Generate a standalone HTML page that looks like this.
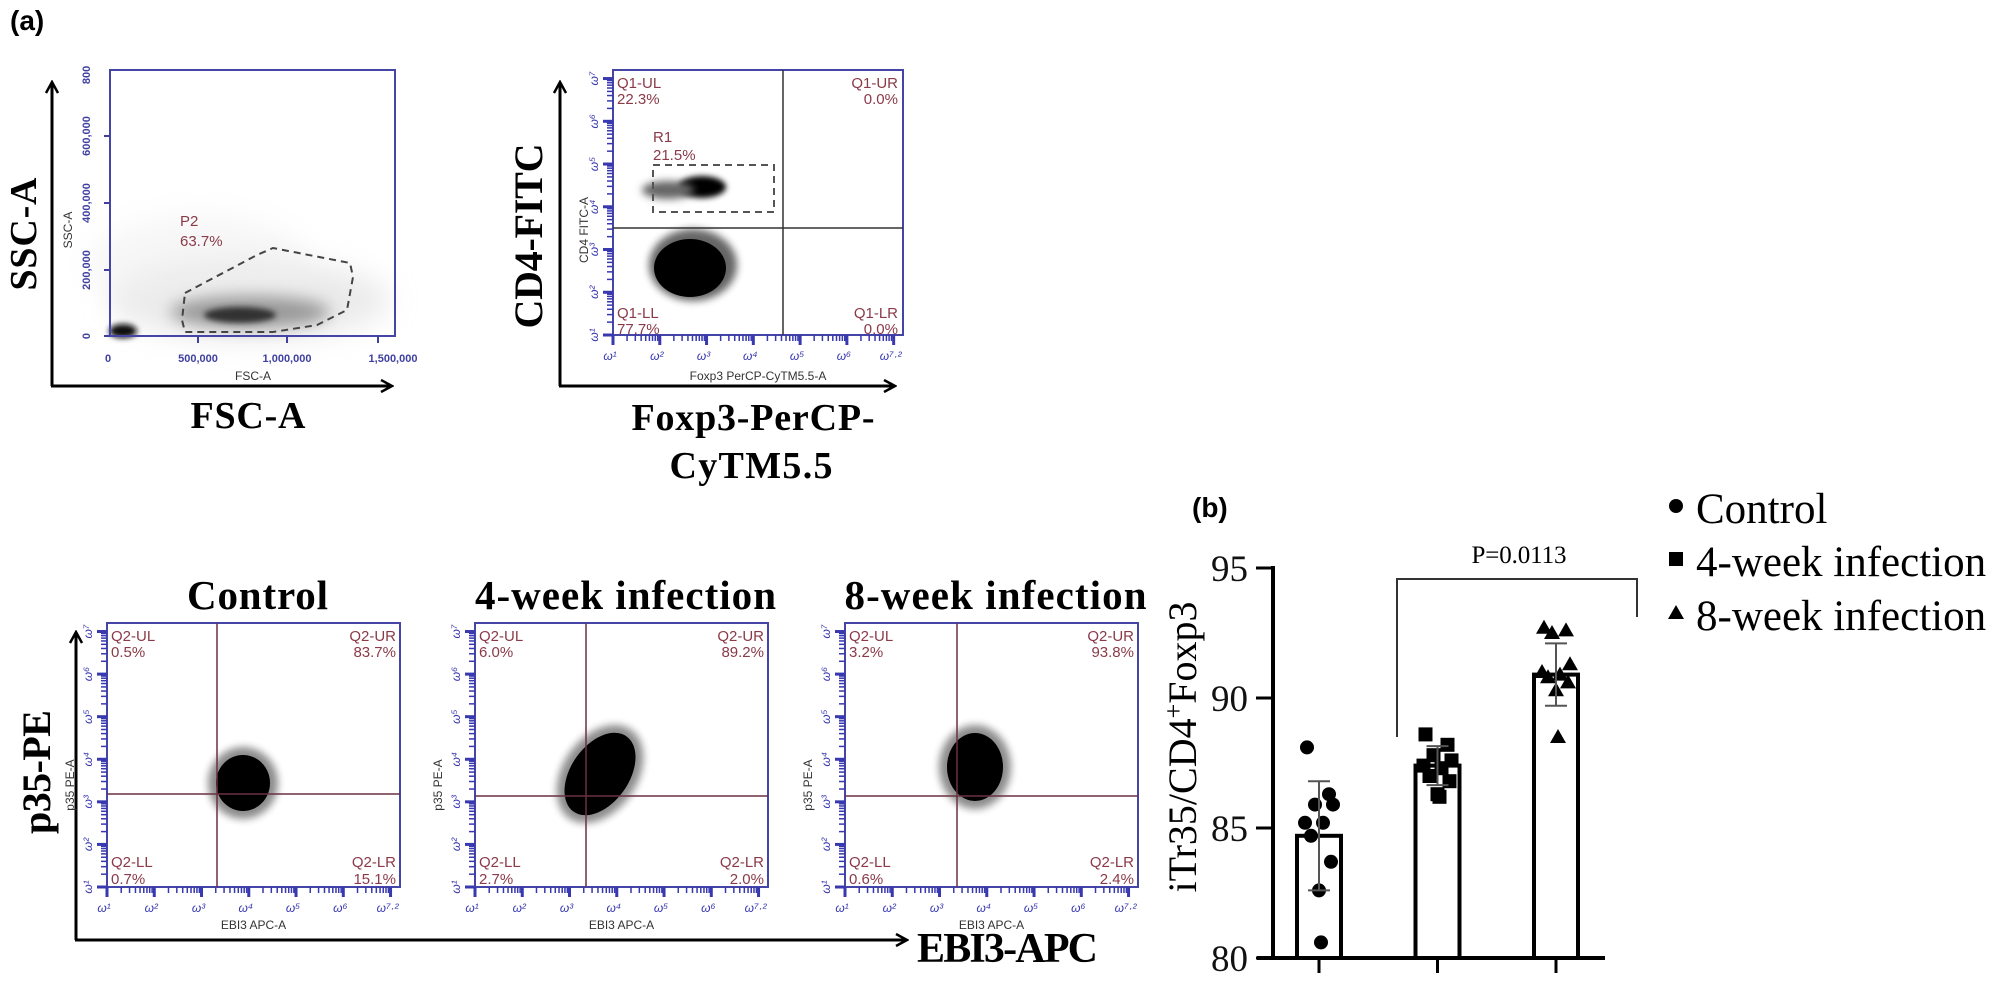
<!DOCTYPE html>
<html><head><meta charset="utf-8">
<style>
html,body{margin:0;padding:0;background:#fff;}
svg{display:block;}
.sans{font-family:"Liberation Sans",sans-serif;}
.serif{font-family:"Liberation Serif",serif;}
</style></head>
<body>
<svg id="fig" width="2000" height="987" viewBox="0 0 2000 987" xmlns="http://www.w3.org/2000/svg">
<defs>
  <marker id="arr" viewBox="0 0 14 14" refX="12" refY="7" markerWidth="14" markerHeight="14" markerUnits="userSpaceOnUse" orient="auto">
    <path d="M1,1 L12,7 L1,13" fill="none" stroke="#000" stroke-width="2.5"/>
  </marker>
  <filter id="blur2" x="-50%" y="-50%" width="200%" height="200%"><feGaussianBlur stdDeviation="3"/></filter>
  <filter id="blur4" x="-50%" y="-50%" width="200%" height="200%"><feGaussianBlur stdDeviation="4"/></filter>
  <filter id="blur6" x="-50%" y="-50%" width="200%" height="200%"><feGaussianBlur stdDeviation="8"/></filter>
  <filter id="blur12" x="-50%" y="-50%" width="200%" height="200%"><feGaussianBlur stdDeviation="14"/></filter>
</defs>

<text x="10" y="30" class="sans" font-size="28" font-weight="bold">(a)</text>
<text x="1192" y="517" class="sans" font-size="28" font-weight="bold">(b)</text>

<!-- Plot 1 FSC/SSC -->
<g>
  <ellipse cx="250" cy="300" rx="140" ry="40" fill="#ddd" filter="url(#blur12)" opacity="0.6"/>
  <ellipse cx="200" cy="265" rx="110" ry="50" fill="#eee" filter="url(#blur12)" opacity="0.5"/>
  <ellipse cx="250" cy="312" rx="80" ry="16" fill="#999" filter="url(#blur6)"/>
  <ellipse cx="240" cy="315" rx="36" ry="8" fill="#333" filter="url(#blur2)"/>
  <ellipse cx="123" cy="331" rx="14" ry="7" fill="#111" filter="url(#blur2)"/>
  <rect x="110" y="70" width="285" height="266" fill="none" stroke="#4545a8" stroke-width="2"/>
  <polygon points="185,293 257,255 273,248 350,263 353,277 347,310 317,325 273,332 185,332 182,320" fill="none" stroke="#444" stroke-width="2" stroke-dasharray="7,5"/>
  <text x="180" y="226" class="sans" font-size="15" fill="#8a3a48">P2</text>
  <text x="180" y="246" class="sans" font-size="15" fill="#8a3a48">63.7%</text>
  <g class="sans" font-size="11" fill="#4040a0" font-weight="bold">
    <text transform="translate(90,336) rotate(-90)" text-anchor="middle">0</text>
    <text transform="translate(90,270) rotate(-90)" text-anchor="middle">200,000</text>
    <text transform="translate(90,203) rotate(-90)" text-anchor="middle">400,000</text>
    <text transform="translate(90,136) rotate(-90)" text-anchor="middle">600,000</text>
    <text transform="translate(90,75) rotate(-90)" text-anchor="middle">800</text>
    <text x="108" y="362" text-anchor="middle">0</text>
    <text x="198" y="362" text-anchor="middle">500,000</text>
    <text x="287" y="362" text-anchor="middle">1,000,000</text>
    <text x="393" y="362" text-anchor="middle">1,500,000</text>
  </g>
  <g stroke="#4040a0" stroke-width="2">
    <line x1="104" y1="336" x2="110" y2="336"/><line x1="104" y1="270" x2="110" y2="270"/><line x1="104" y1="203" x2="110" y2="203"/><line x1="104" y1="136" x2="110" y2="136"/>
    <line x1="198" y1="336" x2="198" y2="343"/><line x1="287" y1="336" x2="287" y2="343"/><line x1="378" y1="336" x2="378" y2="343"/>
  </g>
  <text transform="translate(72,230) rotate(-90)" class="sans" font-size="12" fill="#333" text-anchor="middle">SSC-A</text>
  <text x="253" y="380" class="sans" font-size="12" fill="#333" text-anchor="middle">FSC-A</text>
  <line x1="52" y1="386" x2="52" y2="82" stroke="#000" stroke-width="3" marker-end="url(#arr)"/>
  <line x1="51" y1="386" x2="392" y2="386" stroke="#000" stroke-width="3" marker-end="url(#arr)"/>
  <text transform="translate(36,234) rotate(-90)" class="serif" font-size="38" font-weight="bold" text-anchor="middle" textLength="113">SSC-A</text>
  <text x="248" y="428" class="serif" font-size="38" font-weight="bold" text-anchor="middle" textLength="115">FSC-A</text>
</g>

<!-- Plot 2 CD4/Foxp3 -->
<g id="p2">
  <ellipse cx="693" cy="265" rx="44" ry="36" fill="#000" opacity="0.6" filter="url(#blur4)"/>
  <ellipse cx="690" cy="268" rx="36" ry="29" fill="#000"/>
  <ellipse cx="702" cy="187" rx="24" ry="11" fill="#000" filter="url(#blur2)"/>
  <ellipse cx="668" cy="190" rx="26" ry="9" fill="#666" filter="url(#blur4)"/>
  <rect x="613" y="70" width="290" height="265" fill="none" stroke="#4545a8" stroke-width="2"/>
  <line x1="783" y1="70" x2="783" y2="335" stroke="#333" stroke-width="1.5"/>
  <line x1="613" y1="228" x2="903" y2="228" stroke="#333" stroke-width="1.5"/>
  <rect x="653" y="165" width="121" height="47" fill="none" stroke="#555" stroke-width="2" stroke-dasharray="7,5"/>
  <g class="sans" font-size="15" fill="#8a3a48">
    <text x="617" y="88">Q1-UL</text><text x="617" y="104">22.3%</text>
    <text x="898" y="88" text-anchor="end">Q1-UR</text><text x="898" y="104" text-anchor="end">0.0%</text>
    <text x="653" y="142">R1</text><text x="653" y="160">21.5%</text>
    <text x="617" y="318">Q1-LL</text><text x="617" y="334">77.7%</text>
    <text x="898" y="318" text-anchor="end">Q1-LR</text><text x="898" y="334" text-anchor="end">0.0%</text>
  </g>
  <text transform="translate(588,230) rotate(-90)" class="sans" font-size="12" fill="#333" text-anchor="middle">CD4 FITC-A</text>
  <text x="758" y="380" class="sans" font-size="12" fill="#333" text-anchor="middle">Foxp3 PerCP-CyTM5.5-A</text>
  <line x1="560" y1="386" x2="560" y2="82" stroke="#000" stroke-width="3" marker-end="url(#arr)"/>
  <line x1="559" y1="386" x2="895" y2="386" stroke="#000" stroke-width="3" marker-end="url(#arr)"/>
  <text transform="translate(542,236) rotate(-90)" class="serif" font-size="40" font-weight="bold" text-anchor="middle" textLength="185">CD4-FITC</text>
  <text x="753" y="430" class="serif" font-size="38" font-weight="bold" text-anchor="middle" textLength="243">Foxp3-PerCP-</text>
  <text x="751" y="478" class="serif" font-size="38" font-weight="bold" text-anchor="middle" textLength="163">CyTM5.5</text>
</g>

<!-- Bottom flow plots -->
<g id="bottom">
  <line x1="76" y1="940" x2="76" y2="632" stroke="#000" stroke-width="3" marker-end="url(#arr)"/>
  <line x1="75" y1="940" x2="907" y2="940" stroke="#000" stroke-width="3" marker-end="url(#arr)"/>
  <text transform="translate(50,772) rotate(-90)" class="serif" font-size="40" font-weight="bold" text-anchor="middle" textLength="124">p35-PE</text>
  <text x="917" y="962" class="serif" font-size="42" font-weight="bold" textLength="181">EBI3-APC</text>
</g>

<!-- Bar chart -->
<g id="bar"></g>
</svg>

<script>
const NS = "http://www.w3.org/2000/svg";
function mk(tag, attrs, parent, text){
  const e = document.createElementNS(NS, tag);
  for (const k in attrs) e.setAttribute(k, attrs[k]);
  if (text !== undefined) e.textContent = text;
  parent.appendChild(e);
  return e;
}

/* ---------- log tick decorations for flow plots ---------- */
function logTicks(g, x0, y0, w, h, decX, decY, lblX, lblY){
  const blue = "#3838b0";
  const dx = w / decX, dy = h / decY;
  for (let d = 0; d < Math.ceil(decX); d++){
    for (let m = 1; m <= 9; m++){
      const x = x0 + (d + Math.log10(m)) * dx;
      if (x > x0 + w) break;
      mk('line', {x1:x, y1:y0+h, x2:x, y2:y0+h+(m===1?10:6), stroke:blue, 'stroke-width':m===1?3:1.5}, g);
    }
  }
  for (let d = 0; d < Math.ceil(decY); d++){
    for (let m = 1; m <= 9; m++){
      const y = y0 + h - (d + Math.log10(m)) * dy;
      if (y < y0) break;
      mk('line', {x1:x0-(m===1?10:6), y1:y, x2:x0, y2:y, stroke:blue, 'stroke-width':m===1?3:1.5}, g);
    }
  }
  lblX.forEach((t,i)=>{
    const x = x0 + Math.min(i, decX) * dx;
    mk('text', {x:x-3, y:y0+h+25, 'class':'sans', 'font-size':12, fill:blue, 'font-style':'italic', 'text-anchor':'middle'}, g, t);
  });
  lblY.forEach((t,i)=>{
    const y = y0 + h - Math.min(i, decY) * dy;
    mk('text', {transform:`translate(${x0-15},${y}) rotate(-90)`, 'class':'sans', 'font-size':12, fill:blue, 'font-style':'italic', 'text-anchor':'middle'}, g, t);
  });
}
logTicks(document.getElementById('p2'), 613, 70, 290, 265, 6.2, 6.2,
  ['ω¹','ω²','ω³','ω⁴','ω⁵','ω⁶','ω⁷·²'], ['ω¹','ω²','ω³','ω⁴','ω⁵','ω⁶','ω⁷']);

const bottom = document.getElementById('bottom');
const panels = [
  {title:'Control', x0:107, vx:217, hy:794, cx:243, cy:783, rx:27, ry:28, rot:0, tl:141,
   q:['Q2-UL','0.5%','Q2-UR','83.7%','Q2-LL','0.7%','Q2-LR','15.1%']},
  {title:'4-week infection', x0:475, vx:586, hy:796, cx:600, cy:774, rx:29, ry:46, rot:35, tl:301,
   q:['Q2-UL','6.0%','Q2-UR','89.2%','Q2-LL','2.7%','Q2-LR','2.0%']},
  {title:'8-week infection', x0:845, vx:957, hy:796, cx:975, cy:767, rx:28, ry:34, rot:0, tl:302,
   q:['Q2-UL','3.2%','Q2-UR','93.8%','Q2-LL','0.6%','Q2-LR','2.4%']}
];
panels.forEach((p, i) => {
  const g = mk('g', {}, bottom);
  
  
  const y0 = 623, w = 293, h = 264;
  mk('ellipse', {cx:p.cx, cy:p.cy, rx:p.rx+8, ry:p.ry+8, fill:'#000', opacity:0.45, filter:'url(#blur4)', transform:`rotate(${p.rot},${p.cx},${p.cy})`}, g);
  mk('ellipse', {cx:p.cx, cy:p.cy, rx:p.rx, ry:p.ry, fill:'#000', transform:`rotate(${p.rot},${p.cx},${p.cy})`}, g);
  mk('rect', {x:p.x0, y:y0, width:w, height:h, fill:'none', stroke:'#4545a8', 'stroke-width':2}, g);
  mk('line', {x1:p.vx, y1:y0, x2:p.vx, y2:y0+h, stroke:'#6a3040', 'stroke-width':1.5}, g);
  mk('line', {x1:p.x0, y1:p.hy, x2:p.x0+w, y2:p.hy, stroke:'#6a3040', 'stroke-width':1.5}, g);
  const t = mk('text', {x:p.x0+w/2+4, y:609, 'class':'serif', 'font-size':41, 'font-weight':'bold', 'text-anchor':'middle', textLength:p.tl}, g, p.title);
  
  
  const c = '#8a3a48';
  mk('text', {x:p.x0+4, y:641, 'class':'sans','font-size':15, fill:c}, g, p.q[0]);
  mk('text', {x:p.x0+4, y:657, 'class':'sans','font-size':15, fill:c}, g, p.q[1]);
  mk('text', {x:p.x0+w-4, y:641, 'class':'sans','font-size':15, fill:c,'text-anchor':'end'}, g, p.q[2]);
  mk('text', {x:p.x0+w-4, y:657, 'class':'sans','font-size':15, fill:c,'text-anchor':'end'}, g, p.q[3]);
  mk('text', {x:p.x0+4, y:867, 'class':'sans','font-size':15, fill:c}, g, p.q[4]);
  mk('text', {x:p.x0+4, y:884, 'class':'sans','font-size':15, fill:c}, g, p.q[5]);
  mk('text', {x:p.x0+w-4, y:867, 'class':'sans','font-size':15, fill:c,'text-anchor':'end'}, g, p.q[6]);
  mk('text', {x:p.x0+w-4, y:884, 'class':'sans','font-size':15, fill:c,'text-anchor':'end'}, g, p.q[7]);
  mk('text', {transform:`translate(${p.x0-33},${y0+h/2+30}) rotate(-90)`, 'class':'sans','font-size':12, fill:'#333','text-anchor':'middle'}, g, 'p35 PE-A');
  mk('text', {x:p.x0+w/2, y:929, 'class':'sans','font-size':12, fill:'#333','text-anchor':'middle'}, g, 'EBI3 APC-A');
  logTicks(g, p.x0, y0, w, h, 6.2, 6.2,
    ['ω¹','ω²','ω³','ω⁴','ω⁵','ω⁶','ω⁷·²'], ['ω¹','ω²','ω³','ω⁴','ω⁵','ω⁶','ω⁷']);
});

/* ---------- Bar chart data ---------- */
const groups = ['Control', '4-week infection', '8-week infection'];
const means = [84.7, 87.4, 90.9];
const sds = [2.1, 0.75, 1.2];
const controlPts = [88.1, 86.3, 85.9, 85.9, 85.2, 85.2, 84.7, 83.7, 82.6, 80.6];
const week4Pts = [88.6, 88.2, 87.8, 87.6, 87.4, 87.3, 87.0, 86.8, 86.3, 86.2];
const week8Pts = [92.7, 92.6, 92.5, 91.3, 91.0, 90.9, 90.8, 90.6, 90.3, 88.5];
const yTicks = [80, 85, 90, 95];
const pLabel = 'P=0.0113';

const bar = document.getElementById('bar');
const Y0 = 958, PX_PER = 26, YMIN = 80;
const yS = v => Y0 - (v - YMIN) * PX_PER;
const xS = i => 1319 + i * 118.5;
const BW = 44;

const ya = mk('line', {x1:1273, y1:yS(yTicks[yTicks.length-1])-2, x2:1273, y2:Y0+2, stroke:'#000','stroke-width':4}, bar);


const xa = mk('line', {x1:1257, y1:Y0, x2:1605, y2:Y0, stroke:'#000','stroke-width':4}, bar);


yTicks.forEach(v => {
  mk('line', {x1:1256, y1:yS(v), x2:1273, y2:yS(v), stroke:'#000','stroke-width':3}, bar);
  const t = mk('text', {x:1248, y:yS(v)+13, 'class':'serif','font-size':37, 'text-anchor':'end', fill:'#111'}, bar, String(v));
  
  
});
const yt = mk('text', {transform:'translate(1196,747) rotate(-90)', 'class':'serif','font-size':40,'text-anchor':'middle'}, bar);


yt.innerHTML = 'iTr35/CD4<tspan baseline-shift="super" font-size="26">+</tspan>Foxp3';

const ptSets = [controlPts, week4Pts, week8Pts];
const jit = [-12, 10, -4, 14, -14, 4, -8, 12, 0, 2];
groups.forEach((gname, i) => {
  const cx = xS(i);
  const b = mk('rect', {x:cx-BW/2, y:yS(means[i]), width:BW, height:Y0-yS(means[i]), fill:'#fff', stroke:'#000','stroke-width':4}, bar);
  
  
  mk('line', {x1:cx, y1:Y0, x2:cx, y2:Y0+15, stroke:'#000','stroke-width':3}, bar);
  ptSets[i].forEach((v, k) => {
    const px = cx + jit[k], py = yS(v);
    let m;
    if (i === 0) m = mk('circle', {cx:px, cy:py, r:7, fill:'#000'}, bar);
    else if (i === 1) m = mk('rect', {x:px-7, y:py-7, width:14, height:14, fill:'#000'}, bar);
    else m = mk('polygon', {points:`${px},${py-8} ${px-8},${py+6} ${px+8},${py+6}`, fill:'#000'}, bar);
    
    
  });
  const hi = yS(means[i] + sds[i]), lo = yS(means[i] - sds[i]);
  const eb = mk('path', {d:`M${cx},${hi} V${lo} M${cx-11},${hi} H${cx+11} M${cx-11},${lo} H${cx+11}`, stroke:'#555', 'stroke-width':2, fill:'none'}, bar);
  
  
});
const bx1 = 1397, bx2 = 1637, by = 579;
const br = mk('path', {d:`M${bx1},737 V${by} H${bx2} V617`, stroke:'#333','stroke-width':2, fill:'none'}, bar);


const pt = mk('text', {x:1519, y:563, 'class':'serif','font-size':25,'text-anchor':'middle', textLength:95}, bar, pLabel);



const legY = [523, 576, 630];
groups.forEach((gname, i) => {
  const lg = mk('g', {}, bar);
  
  
  const mx = 1676, my = legY[i] - 15;
  if (i === 0) mk('circle', {cx:mx, cy:my-2, r:7, fill:'#000'}, lg);
  else if (i === 1) mk('rect', {x:mx-7, y:my-9, width:14, height:14, fill:'#000'}, lg);
  else mk('polygon', {points:`${mx},${my-10} ${mx-8},${my+4} ${mx+8},${my+4}`, fill:'#000'}, lg);
  mk('text', {x:1696, y:legY[i], 'class':'serif','font-size':43}, lg, gname);
});
</script>
</body></html>
